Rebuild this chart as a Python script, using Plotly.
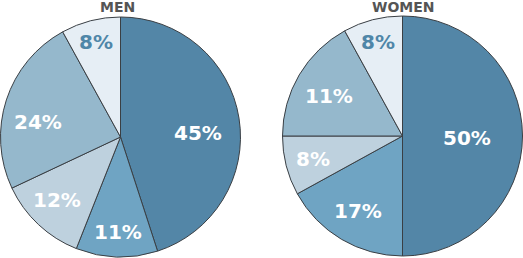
import math
import plotly.graph_objects as go

categories = ["A", "B", "C", "D", "E"]
men_values = [45, 11, 12, 24, 8]
men_labels = ["45%", "11%", "12%", "24%", "8%"]
women_values = [50, 17, 8, 17, 8]
women_labels = ["50%", "17%", "8%", "11%", "8%"]

colors = ["#5386a7", "#6fa4c3", "#bed1de", "#95b8cc", "#e6eef5"]
text_colors = ["white", "white", "white", "white", "#4f86a8"]

# label placement style (radius fraction, angle shift in degrees)
men_label_r = [0.65, 0.79, 0.74, 0.70, 0.82]
men_label_dt = [6, 0, 2, -8, 0]
women_label_r = [0.54, 0.73, 0.77, 0.70, 0.81]
women_label_dt = [2, 0, 0, -2, 0]

W, H = 523, 258
FONT = "DejaVu Sans"
fig = go.Figure()

def add_pie(values, labels, cx, cy, r, lr, ldt):
    fig.add_trace(go.Pie(
        labels=categories, values=values,
        textinfo="none",
        sort=False, direction="clockwise", rotation=0,
        marker=dict(colors=colors, line=dict(color="#3a3f44", width=1)),
        domain=dict(x=[(cx - r) / W, (cx + r) / W], y=[1 - (cy + r) / H, 1 - (cy - r) / H]),
        showlegend=False, hoverinfo="skip",
    ))
    total = sum(values)
    cum = 0
    for v, t, c, rf, dt in zip(values, labels, text_colors, lr, ldt):
        th = math.radians(360 * (cum + v / 2) / total + dt)
        cum += v
        px = cx + rf * r * math.sin(th)
        py = cy - rf * r * math.cos(th)
        fig.add_annotation(text=t, x=px / W, y=1 - py / H, xref="paper", yref="paper",
                           showarrow=False, xanchor="center", yanchor="middle",
                           font=dict(family=FONT, size=20, color=c, weight=700))

add_pie(men_values, men_labels, 120.5, 137, 120, men_label_r, men_label_dt)
add_pie(women_values, women_labels, 402.5, 136, 120, women_label_r, women_label_dt)

for txt, x in [("MEN", 117), ("WOMEN", 403)]:
    fig.add_annotation(text=txt, x=x / W, y=1 + 2 / H, xref="paper", yref="paper",
                       showarrow=False, xanchor="center", yanchor="top", borderpad=0,
                       font=dict(family=FONT, size=14, color="#555555", weight=700))

fig.update_layout(width=W, height=H, margin=dict(l=0, r=0, t=0, b=0),
                  paper_bgcolor="white", plot_bgcolor="white")
fig.write_html("out.html")
